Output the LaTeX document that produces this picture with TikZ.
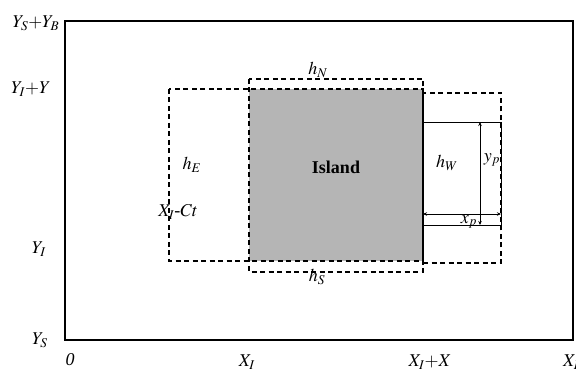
\documentclass[tikz,border=0pt]{standalone}
\usepackage{mathptmx}
\usepackage{fontspec}
\setmainfont{Liberation Serif}
\usetikzlibrary{arrows.meta,positioning}

\begin{document}
\begin{tikzpicture}[
  x=1pt, y=-1pt,
  font=\fontsize{18}{20}\selectfont,
  frame/.style={draw, line width=1.8pt},
  zone/.style={draw, line width=1.2pt, dash pattern=on 5pt off 3.5pt},
  island/.style={fill=gray!58, draw=none},
  plume/.style={draw, line width=0.8pt},
  dim/.style={{Stealth[length=4pt,width=3.5pt]}-{Stealth[length=4pt,width=3.5pt]}, line width=0.8pt},
  lbl/.style={inner sep=1pt}
]
\useasboundingbox (0,0) rectangle (576,371);
% Domain
\draw[frame] (65,21) rectangle (573,340);
% Island and buffer zones
\fill[island] (249,89) rectangle (423,261);
\draw[zone] (249,79) rectangle (423,272);
\draw[zone] (169,89) rectangle (423,261);
\draw[zone] (423,93) rectangle (501,263);
% Plume box
\draw[plume] (423,122) rectangle (501,225);
\coordinate (xpL) at (423,214);
\coordinate (xpR) at (501,214);
\coordinate (ypT) at (480,122);
\coordinate (ypB) at (480,225);
\draw[dim] (xpL) -- (xpR);
\draw[dim] (ypT) -- (ypB);
% Zone labels
\node[lbl, font=\fontsize{18}{20}\selectfont\bfseries] (isl) at (336,167) {Island};
\node[lbl] (hN) at (318,70) {$h_N$};
\node[lbl] (hS) at (317,277) {$h_S$};
\node[lbl] (hE) at (192,165) {$h_E$};
\node[lbl] (hW) at (447,163) {$h_W$};
\node[lbl] (xp) at (469,222) {$x_p$};
\node[lbl] (yp) at (492,160) {$y_p$};
\node[lbl] (xct) at (178,212) {$X_I$-$Ct$};
% Axis labels
\node[lbl] (ysb) at (36,23) {$Y_S{+}Y_B$};
\node[lbl] (yiy) at (31,89) {$Y_I{+}Y$};
\node[lbl] (yi) at (39,249) {$Y_I$};
\node[lbl] (ys) at (40,340) {$Y_S$};
\node[lbl] (x0) at (70,360) {\textit{0}};
\node[lbl] (xi) at (247,362) {$X_I$};
\node[lbl] (xix) at (430,362) {$X_I{+}X$};
\node[lbl, anchor=west] (xb) at (562,362) {$X_B$};
\end{tikzpicture}
\end{document}
